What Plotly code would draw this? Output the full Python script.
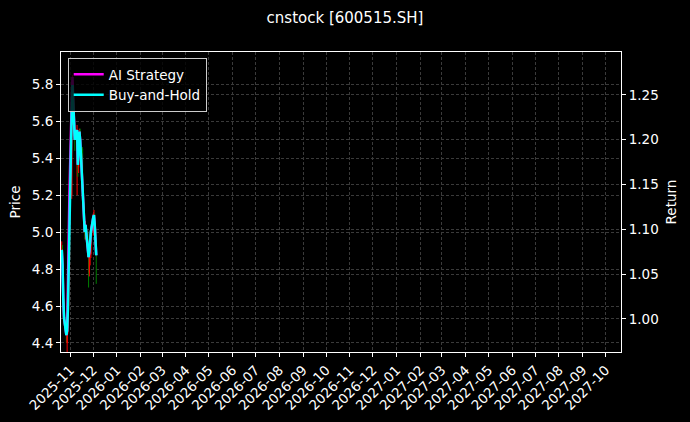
import plotly.graph_objects as go

# trading days shown in the chart
fechas = ["2025-10-21", "2025-10-22", "2025-10-23", "2025-10-24", "2025-10-27",
          "2025-10-28", "2025-10-29", "2025-10-30", "2025-10-31", "2025-11-03",
          "2025-11-04", "2025-11-05", "2025-11-06", "2025-11-07", "2025-11-10",
          "2025-11-11", "2025-11-12", "2025-11-13", "2025-11-14", "2025-11-17",
          "2025-11-18", "2025-11-19", "2025-11-20", "2025-11-21", "2025-11-24",
          "2025-11-25", "2025-11-26", "2025-11-27", "2025-11-28", "2025-12-01",
          "2025-12-02", "2025-12-03", "2025-12-04", "2025-12-05"]

apertura = [4.86, 4.90, 4.80, 4.62, 4.50, 4.40, 4.48, 4.60, 4.86, 5.20,
            5.62, 5.78, 5.70, 5.56, 5.48, 5.52, 5.35, 5.45, 5.52, 5.45,
            5.22, 5.14, 5.03, 4.98, 5.00, 4.92, 4.78, 4.90, 4.88, 5.00,
            5.06, 5.08, 5.02, 4.95]
maximo = [4.95, 4.93, 4.82, 4.64, 4.54, 4.50, 4.62, 4.88, 5.14, 5.70,
          5.85, 5.80, 5.72, 5.60, 5.58, 5.54, 5.46, 5.56, 5.56, 5.46,
          5.26, 5.16, 5.05, 5.06, 5.01, 4.94, 4.92, 4.95, 5.03, 5.10,
          5.12, 5.10, 5.05, 4.97]
minimo = [4.84, 4.80, 4.60, 4.50, 4.40, 4.33, 4.45, 4.58, 4.84, 5.18,
          5.58, 5.66, 5.52, 5.44, 5.20, 5.30, 5.32, 5.42, 5.46, 5.20,
          5.12, 5.00, 4.96, 4.96, 4.88, 4.70, 4.76, 4.82, 4.86, 4.98,
          5.04, 5.00, 4.92, 4.72]
cierre = [4.90, 4.82, 4.63, 4.53, 4.44, 4.47, 4.58, 4.84, 5.09, 5.66,
          5.80, 5.71, 5.58, 5.50, 5.55, 5.36, 5.44, 5.54, 5.50, 5.23,
          5.15, 5.04, 5.00, 5.04, 4.93, 4.86, 4.89, 4.93, 5.00, 5.08,
          5.09, 5.04, 4.96, 4.88]

ret_ai = [1.077, 1.060, 1.021, 1.001, 0.982, 0.987, 1.035, 1.090, 1.140, 1.245,
          1.270, 1.244, 1.217, 1.200, 1.211, 1.172, 1.189, 1.209, 1.200, 1.144,
          1.127, 1.105, 1.097, 1.105, 1.083, 1.069, 1.075, 1.083, 1.097, 1.113,
          1.116, 1.105, 1.088, 1.071]
ret_bh = [1.077, 1.060, 1.021, 1.001, 0.982, 0.987, 1.010, 1.063, 1.116, 1.233,
          1.261, 1.244, 1.217, 1.200, 1.211, 1.172, 1.189, 1.209, 1.200, 1.144,
          1.127, 1.105, 1.097, 1.105, 1.083, 1.069, 1.075, 1.083, 1.097, 1.113,
          1.116, 1.105, 1.088, 1.071]

fuente = "DejaVu Sans"
grid = dict(showgrid=True, gridcolor="#3a3a3a", griddash="3px,2px", gridwidth=0.6)
ejes = dict(ticks="outside", ticklen=4, tickcolor="white", showline=True,
            linecolor="white", automargin=False, tickfont=dict(size=13.5))

fig = go.Figure()

fig.add_trace(go.Candlestick(
    x=fechas, open=apertura, high=maximo, low=minimo, close=cierre,
    increasing=dict(line=dict(color="#ff0000", width=1), fillcolor="#ff0000"),
    decreasing=dict(line=dict(color="#008000", width=1), fillcolor="#008000"),
    showlegend=False, name="K"))

fig.add_trace(go.Scatter(x=fechas, y=ret_ai, mode="lines", name="AI Strategy",
                         line=dict(color="#ff00ff", width=2.5), yaxis="y2"))
fig.add_trace(go.Scatter(x=fechas, y=ret_bh, mode="lines", name="Buy-and-Hold",
                         line=dict(color="#00ffff", width=2.5), yaxis="y2"))

fig.update_layout(
    width=690, height=422,
    paper_bgcolor="black", plot_bgcolor="black",
    font=dict(family=fuente, color="white", size=13.5),
    margin=dict(l=61, r=69, t=52, b=70),
    title=dict(text="cnstock [600515.SH]", x=0.5, xref="container",
               y=0.957, yanchor="middle", font=dict(size=15)),
    legend=dict(x=0.012, y=0.98, xanchor="left", yanchor="top",
                bgcolor="rgba(0,0,0,0.8)", bordercolor="#cccccc", borderwidth=1,
                font=dict(size=13.5), tracegroupgap=0),
    xaxis=dict(type="date", range=["2025-10-20", "2027-10-21"],
               tick0="2025-11-01", dtick="M1", tickformat="%Y-%m",
               tickangle=-45, mirror=True,
               rangeslider=dict(visible=False), **ejes, **grid),
    yaxis=dict(title=dict(text="Price", font=dict(size=13.5), standoff=8),
               range=[4.351, 5.975], dtick=0.2, tickformat=".1f",
               zeroline=False, **ejes, **grid),
    yaxis2=dict(title=dict(text="Return", font=dict(size=13.5), standoff=8),
                range=[0.963, 1.298], dtick=0.05, tickformat=".2f",
                overlaying="y", side="right", zeroline=False, **ejes, **grid),
)

fig.write_html("out.html", config={"displayModeBar": False},
               post_script="document.body.style.margin='0';")
